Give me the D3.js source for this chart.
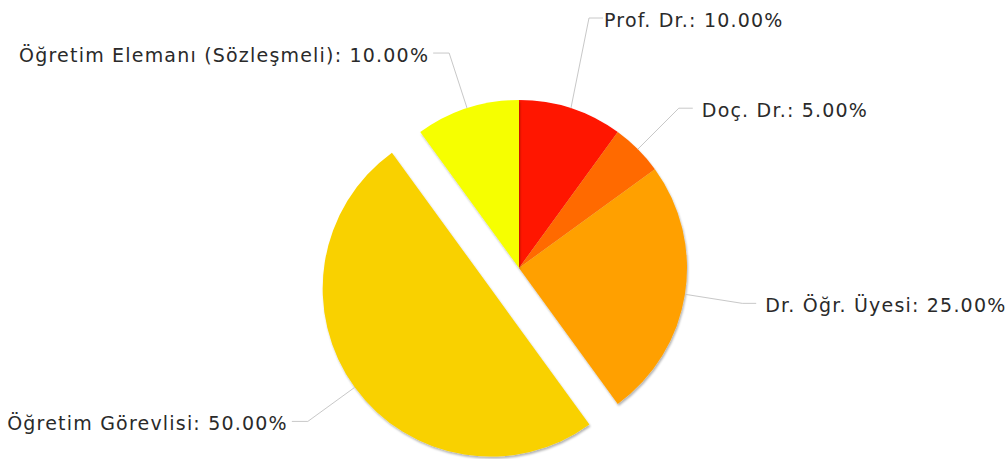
<!DOCTYPE html>
<meta charset="utf-8">
<title>Akademik personel dağılımı</title>
<style>
    body {
        margin: 0;
        background: #fff;
        font-family: "DejaVu Sans", Verdana, sans-serif;
    }
    .label {
        font-size: 19px;
        letter-spacing: 1.2px;
        fill: #2a2a2a;
    }
</style>

<body>
    <script src="https://d3js.org/d3.v7.min.js"></script>
    <script>
        /* Share of staff by title (percent) */
        var categories = ["Prof. Dr.", "Doç. Dr.", "Dr. Öğr. Üyesi", "Öğretim Görevlisi", "Öğretim Elemanı (Sözleşmeli)"];
        var values = [10, 5, 25, 50, 10];
        var colors = ["#ff1300", "#ff6a00", "#ffa000", "#f9d100", "#f6ff00"];
        var exploded = [false, false, false, true, false];

        /* Layout constants */
        var width = 1007,
            height = 459;
        var cx = 519,
            cy = 268,
            radius = 168,
            explode = 35,
            labelRadius = 226;

        var svg = d3.select("body").append("svg")
            .attr("width", width)
            .attr("height", height);

        // soft shadow under the slices
        var filter = svg.append("defs").append("filter")
            .attr("id", "shadow")
            .attr("x", "-10%").attr("y", "-10%")
            .attr("width", "120%").attr("height", "120%");
        filter.append("feDropShadow")
            .attr("dx", 1).attr("dy", 2)
            .attr("stdDeviation", 1.2)
            .attr("flood-color", "#000")
            .attr("flood-opacity", 0.3);

        var pie = d3.pie().sort(null).value(d => d);
        var arcs = pie(values);
        var arc = d3.arc().innerRadius(0).outerRadius(radius);

        function offset(d, i) {
            var a = (d.startAngle + d.endAngle) / 2;
            var k = exploded[i] ? explode : 0;
            return [Math.sin(a) * k, -Math.cos(a) * k];
        }

        var g = svg.append("g").attr("transform", "translate(" + cx + "," + cy + ")");

        g.selectAll("path.slice")
            .data(arcs)
            .enter()
            .append("path")
            .attr("class", "slice")
            .attr("d", arc)
            .attr("fill", (d, i) => colors[i])
            .attr("filter", "url(#shadow)")
            .attr("transform", (d, i) => "translate(" + offset(d, i) + ")");

        /* Labels with elbow connectors */
        var fmt = d3.format(".2f");
        arcs.forEach(function (d, i) {
            var a = (d.startAngle + d.endAngle) / 2;
            var o = offset(d, i);
            var sx = Math.sin(a), sy = -Math.cos(a);
            var p0 = [o[0] + sx * radius, o[1] + sy * radius];
            var p1 = [o[0] + sx * labelRadius, o[1] + sy * labelRadius];
            var right = sx >= 0;
            var gap = right ? 9 : 4;
            // first label is lifted clear of the top edge of the pie
            if (i === 0) { p1 = [70, -250]; gap = 1; }
            var p2 = [p1[0] + (right ? 14 : -16), p1[1]];

            g.append("path")
                .attr("d", d3.line()([p0, p1, p2]))
                .attr("fill", "none")
                .attr("stroke", "#c8c8c8")
                .attr("stroke-width", 1);

            g.append("text")
                .attr("class", "label")
                .attr("x", p2[0] + (right ? gap : -gap))
                .attr("y", p1[1] + 2)
                .attr("dy", "0.35em")
                .attr("text-anchor", right ? "start" : "end")
                .text(categories[i] + ": " + fmt(values[i]) + "%");
        });
    </script>
</body>
